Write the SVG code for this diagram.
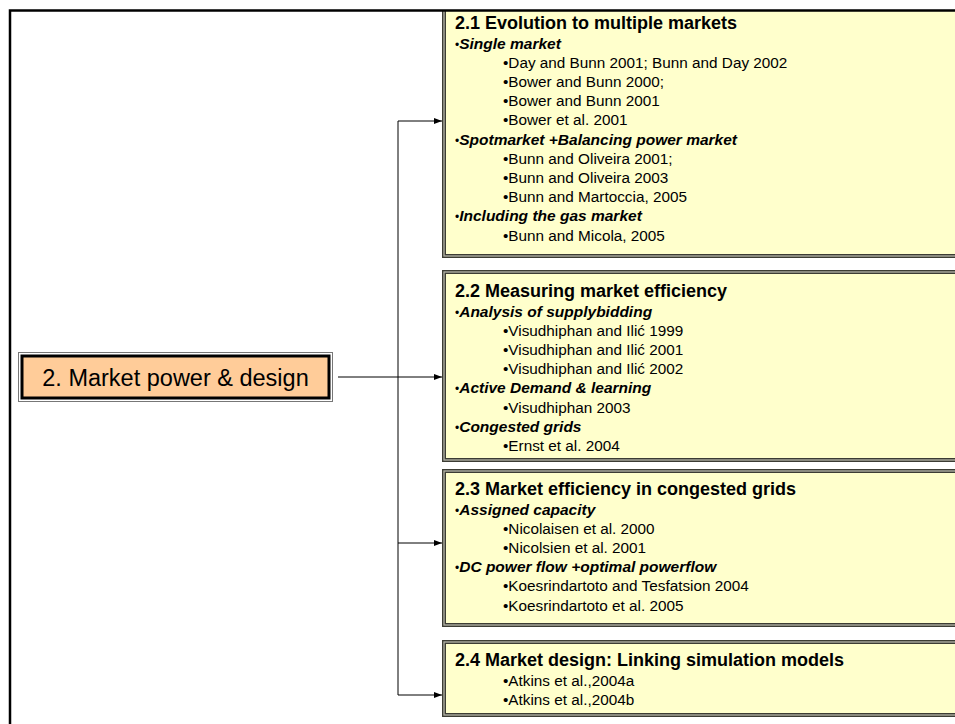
<svg xmlns="http://www.w3.org/2000/svg" width="955" height="724" viewBox="0 0 955 724">
<style>
.box{fill:#FFFFCC;stroke:#3c3c34;stroke-width:4}
.boxmid{fill:none;stroke:#b4b4a8;stroke-width:1.3}
.t{font-family:"Liberation Sans",Arial,sans-serif;fill:#000}
.ti{font-size:18px;font-weight:bold}
.sh{font-size:15.5px;font-weight:bold;font-style:italic}
.bd{font-size:15.3px}
.bl{font-weight:normal;font-style:normal;font-size:12px}
.conn{stroke:#000;stroke-width:1;fill:none}
</style>
<defs>
<marker id="arr" viewBox="0 0 8 6" refX="8" refY="3" markerWidth="8" markerHeight="6" markerUnits="userSpaceOnUse" orient="auto">
<path d="M0,0 L8,3 L0,6 Z" fill="#000"/>
</marker>
<clipPath id="frameclip"><rect x="10" y="10" width="945" height="714"/></clipPath>
</defs>
<rect width="955" height="724" fill="#fff"/>

<g id="main">
<rect x="18.5" y="352.5" width="314" height="49" fill="none" stroke="#777" stroke-width="1"/>
<rect x="22" y="356" width="307" height="42" fill="#FFCC99" stroke="#000" stroke-width="3"/>
<text class="t" x="175.5" y="385.5" font-size="23.5" text-anchor="middle">2. Market power &amp; design</text>
</g>

<g id="box21" clip-path="url(#frameclip)">
<rect class="box" x="444" y="0" width="520" height="256"/>
<rect class="boxmid" x="444" y="0" width="520" height="256"/>
<text class="t ti" x="455" y="29">2.1 Evolution to multiple markets</text>
<text class="t sh" x="455" y="48.5"><tspan class="bl">•</tspan>Single market</text>
<text class="t bd" x="503" y="67.7">•Day and Bunn 2001; Bunn and Day 2002</text>
<text class="t bd" x="503" y="86.9">•Bower and Bunn 2000;</text>
<text class="t bd" x="503" y="106.1">•Bower and Bunn 2001</text>
<text class="t bd" x="503" y="125.3">•Bower et al. 2001</text>
<text class="t sh" x="455" y="144.5"><tspan class="bl">•</tspan>Spotmarket +Balancing power market</text>
<text class="t bd" x="503" y="163.7">•Bunn and Oliveira 2001;</text>
<text class="t bd" x="503" y="182.9">•Bunn and Oliveira 2003</text>
<text class="t bd" x="503" y="202.1">•Bunn and Martoccia, 2005</text>
<text class="t sh" x="455" y="221.3"><tspan class="bl">•</tspan>Including the gas market</text>
<text class="t bd" x="503" y="240.5">•Bunn and Micola, 2005</text>
</g>

<g id="box22">
<rect class="box" x="444" y="272" width="520" height="188"/>
<rect class="boxmid" x="444" y="272" width="520" height="188"/>
<text class="t ti" x="455" y="297">2.2 Measuring market efficiency</text>
<text class="t sh" x="455" y="316.5"><tspan class="bl">•</tspan>Analysis of supplybidding</text>
<text class="t bd" x="503" y="335.7">•Visudhiphan and Ilić 1999</text>
<text class="t bd" x="503" y="354.9">•Visudhiphan and Ilić 2001</text>
<text class="t bd" x="503" y="374.1">•Visudhiphan and Ilić 2002</text>
<text class="t sh" x="455" y="393.3"><tspan class="bl">•</tspan>Active Demand &amp; learning</text>
<text class="t bd" x="503" y="412.5">•Visudhiphan 2003</text>
<text class="t sh" x="455" y="431.7"><tspan class="bl">•</tspan>Congested grids</text>
<text class="t bd" x="503" y="450.9">•Ernst et al. 2004</text>
</g>

<g id="box23">
<rect class="box" x="444" y="471" width="520" height="154"/>
<rect class="boxmid" x="444" y="471" width="520" height="154"/>
<text class="t ti" x="455" y="495">2.3 Market efficiency in congested grids</text>
<text class="t sh" x="455" y="514.5"><tspan class="bl">•</tspan>Assigned capacity</text>
<text class="t bd" x="503" y="533.7">•Nicolaisen et al. 2000</text>
<text class="t bd" x="503" y="552.9">•Nicolsien et al. 2001</text>
<text class="t sh" x="455" y="572.1"><tspan class="bl">•</tspan>DC power flow +optimal powerflow</text>
<text class="t bd" x="503" y="591.3">•Koesrindartoto and Tesfatsion 2004</text>
<text class="t bd" x="503" y="610.5">•Koesrindartoto et al. 2005</text>
</g>

<g id="box24">
<rect class="box" x="444" y="642" width="520" height="73"/>
<rect class="boxmid" x="444" y="642" width="520" height="73"/>
<text class="t ti" x="455" y="666">2.4 Market design: Linking simulation models</text>
<text class="t bd" x="503" y="685.5">•Atkins et al.,2004a</text>
<text class="t bd" x="503" y="704.7">•Atkins et al.,2004b</text>
</g>

<g id="connectors">
<path class="conn" d="M338,377 H442" marker-end="url(#arr)"/>
<path class="conn" d="M398,121 V695"/>
<path class="conn" d="M398,121 H442" marker-end="url(#arr)"/>
<path class="conn" d="M398,543 H442" marker-end="url(#arr)"/>
<path class="conn" d="M398,695 H442" marker-end="url(#arr)"/>
</g>

<g id="frame">
<rect x="10" y="10.5" width="970" height="740" fill="none" stroke="#000" stroke-width="2.5"/>
</g>
</svg>
